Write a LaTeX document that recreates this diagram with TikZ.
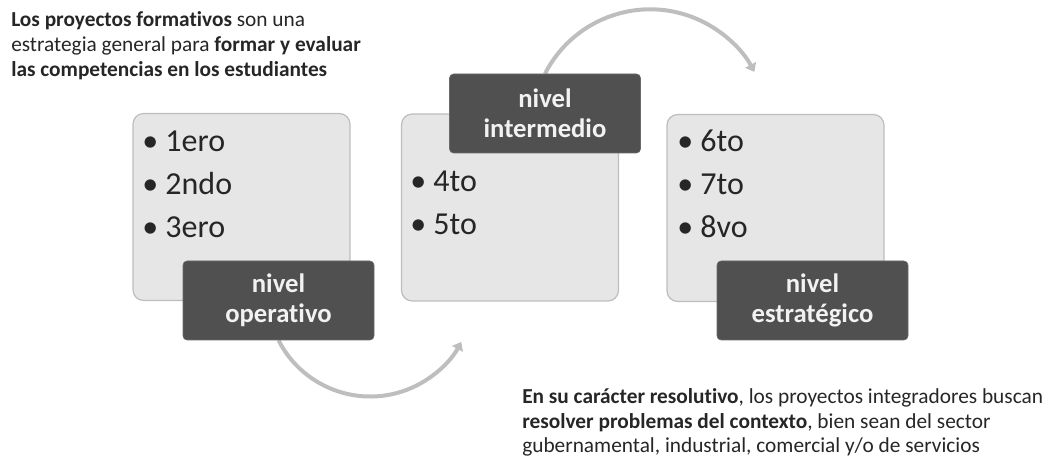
\documentclass[tikz,border=0pt]{standalone}
\usepackage{fontspec}
\setmainfont{Carlito}[Ligatures={NoCommon}]
\usetikzlibrary{arrows.meta,backgrounds}
\definecolor{boxfill}{HTML}{E6E6E6}
\definecolor{boxline}{HTML}{BDBDBD}
\definecolor{labfill}{HTML}{505050}
\definecolor{labtext}{HTML}{F2F2F2}
\definecolor{arrowgray}{HTML}{BEBEBE}
\definecolor{txt}{HTML}{262626}
\begin{document}
\begin{tikzpicture}[x=0.75pt,y=-0.75pt,
 panel/.style={draw=boxline, fill=boxfill, line width=0.9pt, rounded corners=8pt, inner sep=0pt,
   minimum width=162.75pt, minimum height=140.25pt},
 lab/.style={fill=labfill, draw=labfill!85!white, rounded corners=3pt, text=labtext,
   font=\fontsize{20}{22.5}\selectfont\bfseries, align=center, inner sep=0pt,
   minimum width=143.25pt, minimum height=59.25pt},
 item/.style={anchor=base west, font=\fontsize{24}{28}\selectfont, text=txt, inner sep=0pt},
 flow/.style={draw=arrowgray, line width=3pt, -{Triangle[length=6pt,width=9pt]}},
 note/.style={anchor=base west, font=\fontsize{16}{18.75}\selectfont, text=txt, inner sep=0pt}]
\useasboundingbox (0,0) rectangle (1057,470);

% panels
\node[panel] (box1) at (241.5,207) {};
\node[panel] (box2) at (510,207.5) {};
\node[panel] (box3) at (775.5,208) {};

% items
\node[item] (i1) at (142,152) {\textbullet{} 1ero};
\node[item] (i2) at (142,195) {\textbullet{} 2ndo};
\node[item] (i3) at (142,238) {\textbullet{} 3ero};
\node[item] (i4) at (410,192) {\textbullet{} 4to};
\node[item] (i5) at (410,235) {\textbullet{} 5to};
\node[item] (i6) at (677,152) {\textbullet{} 6to};
\node[item] (i7) at (677,195) {\textbullet{} 7to};
\node[item] (i8) at (677,238) {\textbullet{} 8vo};

% labels
\node[lab] (lab1) at (278.5,300.5) {nivel\\operativo};
\node[lab] (lab2) at (545,113.5) {nivel\\intermedio};
\node[lab] (lab3) at (812.5,300.5) {nivel\\estratégico};

% arrows
\begin{scope}[on background layer]
\draw[flow] (lab1.south) arc[start angle=153, end angle=28, radius=103];
\draw[flow] (lab2.north) arc[start angle=207, end angle=332, radius=118];
\end{scope}

% notes
\node[note] (n1) at (11,27) {\textbf{Los proyectos formativos} son una};
\node[note] (n2) at (11,52) {estrategia general para \textbf{formar y evaluar}};
\node[note] (n3) at (11,77) {\textbf{las competencias en los estudiantes}};

\node[note] (n4) at (522,403) {\textbf{En su carácter resolutivo}, los proyectos integradores buscan};
\node[note] (n5) at (522,428) {\textbf{resolver problemas del contexto}, bien sean del sector};
\node[note] (n6) at (522,452) {gubernamental, industrial, comercial y/o de servicios};
\end{tikzpicture}
\end{document}
